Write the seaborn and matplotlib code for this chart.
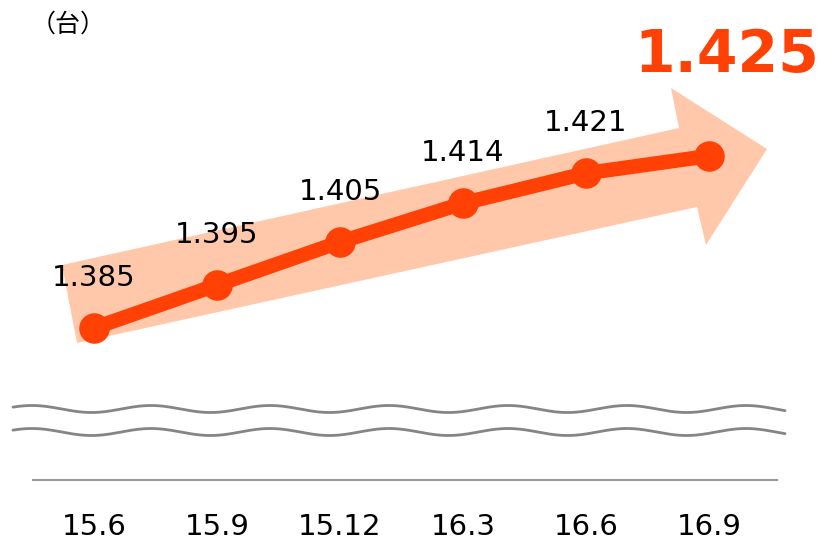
import numpy as np
import pandas as pd
import matplotlib.pyplot as plt
import matplotlib.transforms as mtransforms
from matplotlib.patches import Polygon
import seaborn as sns

# data
periods = ["15.6", "15.9", "15.12", "16.3", "16.6", "16.9"]
values = [1.385, 1.395, 1.405, 1.414, 1.421, 1.425]
unit_label = "（台）"

LINE_COLOR = "#FF4106"
ARROW_COLOR = "#FFC8AB"
GRAY = "#858585"

sns.set_style("white")
plt.rcParams["font.family"] = ["DejaVu Sans", "Noto Sans CJK JP"]

df = pd.DataFrame({"idx": np.arange(len(periods)), "value": values})

W, H = 827, 542
fig = plt.figure(figsize=(W / 100, H / 100), dpi=100)
ax = fig.add_axes([33 / W, (H - 480) / H, (777 - 33) / W, 480 / H])

# reference-pixel transform for decorations
pix = mtransforms.Affine2D().scale(1 / W, -1 / H).translate(0, 1) + fig.transFigure

# big background arrow
arrow_pts = [(62, 265), (679, 128), (671, 88), (767, 149),
             (706, 245), (697, 207), (77, 343)]
ax.add_patch(Polygon(arrow_pts, closed=True, facecolor=ARROW_COLOR,
                     edgecolor="none", transform=pix, clip_on=False, zorder=1))

sns.lineplot(data=df, x="idx", y="value", ax=ax, color=LINE_COLOR,
             linewidth=10.5, marker="o", markersize=22, markeredgewidth=0,
             zorder=3)

ax.set_xlim(-0.496, 5.553)
ax.set_ylim(1.34965, 1.46128)

# value labels
for i, v in enumerate(values[:-1]):
    ax.annotate(f"{v:.3f}", (i, v), xytext=(0, 36), textcoords="offset points",
                ha="center", va="center", fontsize=21, color="black")
ax.annotate(f"{values[-1]:.3f}", (len(values) - 1, values[-1]),
            xytext=(12.5, 72.5), textcoords="offset points",
            ha="center", va="center", fontsize=42, fontweight="bold",
            color=LINE_COLOR)

# wavy axis break
xs = np.linspace(13, 785, 600)
for yc in (409, 432):
    ys = yc - 3.5 * np.cos(2 * np.pi * (xs - 151) / 119)
    ax.plot(xs, ys, color=GRAY, linewidth=2, transform=pix, clip_on=False)

ax.set_xticks(df["idx"])
ax.set_xticklabels(periods, fontsize=21, color="black")
ax.tick_params(axis="x", length=0, pad=24)
ax.set_yticks([])
ax.set_xlabel("")
ax.set_ylabel("")
for s in ["top", "left", "right"]:
    ax.spines[s].set_visible(False)
ax.spines["bottom"].set_color("#999999")
ax.spines["bottom"].set_linewidth(1.5)

fig.text(68 / W, 1 - 25 / H, unit_label, ha="center", va="center",
         fontsize=18, color="black", family=["Noto Sans CJK JP", "DejaVu Sans"])

fig.savefig("out.png", dpi=100)
